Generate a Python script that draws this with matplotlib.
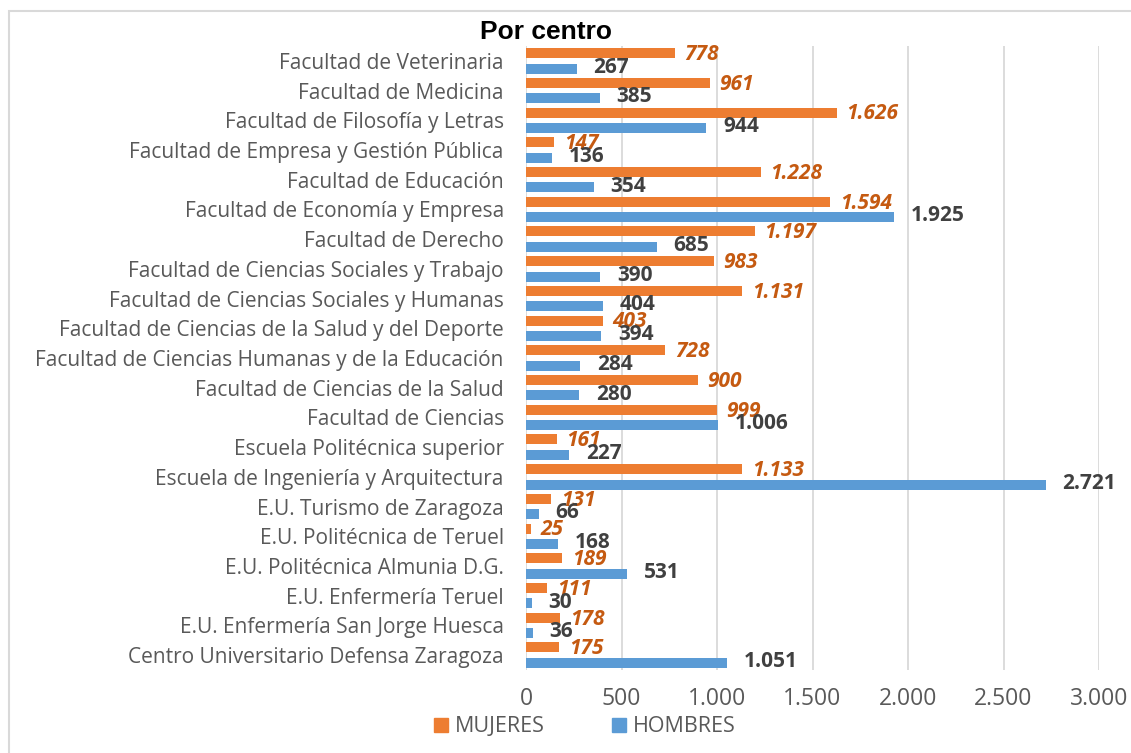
import numpy as np
import matplotlib
matplotlib.use('Agg')
import matplotlib.pyplot as plt
from matplotlib.patches import Rectangle, Patch

plt.rcParams['font.family'] = ['Open Sans', 'DejaVu Sans']

centros = ['Facultad de Veterinaria', 'Facultad de Medicina', 'Facultad de Filosofía y Letras',
           'Facultad de Empresa y Gestión Pública', 'Facultad de Educación',
           'Facultad de Economía y Empresa', 'Facultad de Derecho',
           'Facultad de Ciencias Sociales y Trabajo', 'Facultad de Ciencias Sociales y Humanas',
           'Facultad de Ciencias de la Salud y del Deporte',
           'Facultad de Ciencias Humanas y de la Educación', 'Facultad de Ciencias de la Salud',
           'Facultad de Ciencias', 'Escuela Politécnica superior',
           'Escuela de Ingeniería y Arquitectura', 'E.U. Turismo de Zaragoza',
           'E.U. Politécnica de Teruel', 'E.U. Politécnica Almunia D.G.',
           'E.U. Enfermería Teruel', 'E.U. Enfermería San Jorge Huesca',
           'Centro Universitario Defensa Zaragoza']
mujeres = [778, 961, 1626, 147, 1228, 1594, 1197, 983, 1131, 403, 728, 900, 999, 161,
           1133, 131, 25, 189, 111, 178, 175]
hombres = [267, 385, 944, 136, 354, 1925, 685, 390, 404, 394, 284, 280, 1006, 227,
           2721, 66, 168, 531, 30, 36, 1051]
xticks = [0, 500, 1000, 1500, 2000, 2500, 3000]

ORANGE = '#ED7D31'
BLUE = '#5B9BD5'
GRAY = '#595959'

def fmt(v):
    return f'{v:,}'.replace(',', '.')

fig = plt.figure(figsize=(11.31, 7.53), dpi=100)
ax = fig.add_axes([526/1131, 1-670/753, (1099-526)/1131, (670-46)/753])

y = np.arange(len(centros))
h = 0.34
off = 0.26
ax.barh(y - off, mujeres, height=h, color=ORANGE, zorder=3)
ax.barh(y + off, hombres, height=h, color=BLUE, zorder=3)

for yi, v in zip(y, mujeres):
    ax.annotate(fmt(v), (v, yi - off), xytext=(7, -1), textcoords='offset points',
                ha='left', va='center', color='#C55A11', fontsize=15,
                fontweight='bold', fontstyle='italic')
for yi, v in zip(y, hombres):
    ax.annotate(fmt(v), (v, yi + off), xytext=(12, 1), textcoords='offset points',
                ha='left', va='center', color='#404040', fontsize=15, fontweight='bold')

ax.set_ylim(len(centros) - 0.5, -0.5)
ax.set_xlim(0, 3000)
ax.set_yticks(y)
ax.set_yticklabels(centros, fontsize=15, color=GRAY)
ax.set_xticks(xticks)
ax.set_xticklabels([fmt(t) for t in xticks], fontsize=16.5, color=GRAY)
ax.tick_params(axis='both', length=0)
ax.tick_params(axis='y', pad=16)
ax.tick_params(axis='x', pad=12)
for s in ax.spines.values():
    s.set_visible(False)
ax.grid(axis='x', color='#D9D9D9', linewidth=1.3, zorder=0)

fig.text(546/1131, 1-32/753, 'Por centro', ha='center', va='center',
         fontsize=19, fontweight='bold', family=['Liberation Sans', 'DejaVu Sans'])

handles = [Patch(color=ORANGE, label='MUJERES'), Patch(color=BLUE, label='HOMBRES')]
fig.legend(handles=handles, loc='center', bbox_to_anchor=(585/1131, 1-727/753), ncol=2,
           frameon=False, fontsize=15.5, labelcolor=GRAY, handlelength=0.65,
           handleheight=0.65, handletextpad=0.33, columnspacing=3.1)

fig.patches.append(Rectangle((9/1131, -0.05), 1.1, 1-11/753+0.05, transform=fig.transFigure,
                             fill=False, edgecolor='#D9D9D9', linewidth=1.5))

fig.savefig('out.png', dpi=100)
